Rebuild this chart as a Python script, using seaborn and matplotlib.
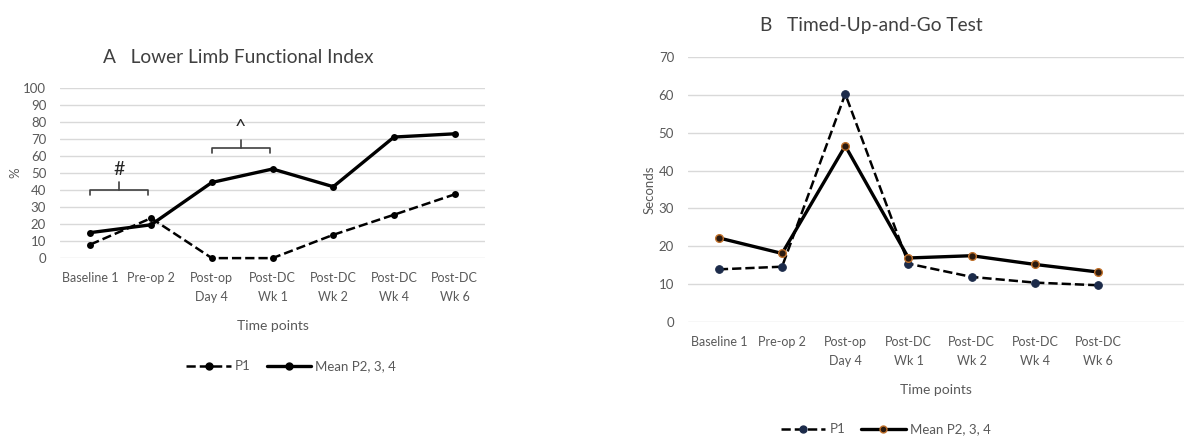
import matplotlib
matplotlib.use('Agg')
import matplotlib.pyplot as plt
from matplotlib.lines import Line2D
import seaborn as sns

# Data
time_points = ["Baseline 1", "Pre-op 2", "Post-op\nDay 4", "Post-DC\nWk 1",
               "Post-DC\nWk 2", "Post-DC\nWk 4", "Post-DC\nWk 6"]
lefi_p1 = [8, 23.5, 0, 0, 13.7, 25.5, 37.5]
lefi_mean = [15, 19.6, 44.5, 52.4, 42, 71.2, 73.1]
tug_p1 = [13.9, 14.6, 60.2, 15.4, 11.9, 10.4, 9.7]
tug_mean = [22.2, 18.1, 46.5, 16.9, 17.5, 15.2, 13.2]

# significance brackets on panel A: (start, end, level, label)
brackets = [(0, 0.95, 40, "#"), (2, 2.95, 65, "^")]

sns.set_theme(style="white")
plt.rcParams['font.family'] = ['Lato', 'DejaVu Sans']

TXT = '#595959'
GRID = '#d9d9d9'

fig = plt.figure(figsize=(11.84, 4.36), dpi=100)
axA = fig.add_axes([0.0507, 0.408, 0.359, 0.390])
axB = fig.add_axes([0.581, 0.2615, 0.419, 0.608])

pos = list(range(len(time_points)))


def style_axis(ax, ymax, step, ylabel):
    ax.set_ylim(0, ymax)
    ax.set_yticks(range(0, ymax + 1, step))
    ax.set_xticks(pos)
    ax.set_xticklabels(time_points, color=TXT, fontsize=9, linespacing=1.7)
    ax.tick_params(axis='y', colors=TXT, labelsize=9.5, length=0, pad=10)
    ax.tick_params(axis='x', length=0, pad=10)
    ax.grid(axis='y', color=GRID, linewidth=1)
    ax.set_axisbelow(True)
    for s in ax.spines.values():
        s.set_visible(False)
    ax.set_xlabel("Time points", color=TXT, fontsize=10, labelpad=12)
    ax.set_ylabel(ylabel, color=TXT, fontsize=9.5)


# Panel A
sns.lineplot(x=pos, y=lefi_p1, ax=axA, color='black', linestyle='--', linewidth=1.8,
             marker='o', markersize=5, markeredgewidth=0, clip_on=False)
sns.lineplot(x=pos, y=lefi_mean, ax=axA, color='black', linewidth=2.4,
             marker='o', markersize=5, markeredgewidth=0, clip_on=False)
axA.set_xlim(-0.5, 6.5)
style_axis(axA, 100, 10, "%")
axA.yaxis.labelpad = 1
axA.set_title("A   Lower Limb Functional Index", color='#404040', fontsize=13.8, pad=18, x=0.42)

for x0, x1, lev, lab in brackets:
    xm = (x0 + x1) / 2
    axA.plot([x0, x0, x1, x1], [lev - 3, lev, lev, lev - 3], color='#404040', lw=1.2, clip_on=False)
    axA.plot([xm, xm], [lev, lev + 4.5], color='#404040', lw=1.2, clip_on=False)
    axA.text(xm, lev + 7, lab, ha='center', va='bottom', fontsize=14, color='#262626')

legA = [Line2D([], [], color='black', linestyle='--', lw=1.8, marker='o', markersize=5, label='P1'),
        Line2D([], [], color='black', lw=2.4, marker='o', markersize=5, label='Mean P2, 3, 4')]
fig.legend(handles=legA, loc='center', bbox_to_anchor=(0.246, 0.16), ncol=2, frameon=False,
           fontsize=9.5, labelcolor=TXT, handlelength=3.4, columnspacing=1.2, handletextpad=0.3)

# Panel B
navy = '#1c2b4a'
brown = '#c0702a'
sns.lineplot(x=pos, y=tug_p1, ax=axB, color='black', linestyle='--', linewidth=1.8,
             marker='o', markersize=5.5, markerfacecolor=navy, markeredgecolor=navy, clip_on=False)
sns.lineplot(x=pos, y=tug_mean, ax=axB, color='black', linewidth=2.4,
             marker='o', markersize=5.5, markerfacecolor='#2a1a10', markeredgecolor=brown,
             markeredgewidth=1, clip_on=False)
axB.set_xlim(-0.49, 7.36)
style_axis(axB, 70, 10, "Seconds")
axB.yaxis.labelpad = 2
axB.set_title("B   Timed-Up-and-Go Test", color='#404040', fontsize=13.8, pad=18.5, x=0.37)

legB = [Line2D([], [], color='black', linestyle='--', lw=1.8, marker='o', markersize=5,
               markerfacecolor=navy, markeredgecolor=navy, label='P1'),
        Line2D([], [], color='black', lw=2.4, marker='o', markersize=5,
               markerfacecolor='#2a1a10', markeredgecolor=brown, label='Mean P2, 3, 4')]
fig.legend(handles=legB, loc='center', bbox_to_anchor=(0.748, 0.015), ncol=2, frameon=False,
           fontsize=9.5, labelcolor=TXT, handlelength=3.4, columnspacing=1.2, handletextpad=0.3)

fig.savefig("out.png", dpi=100)
plt.close(fig)
